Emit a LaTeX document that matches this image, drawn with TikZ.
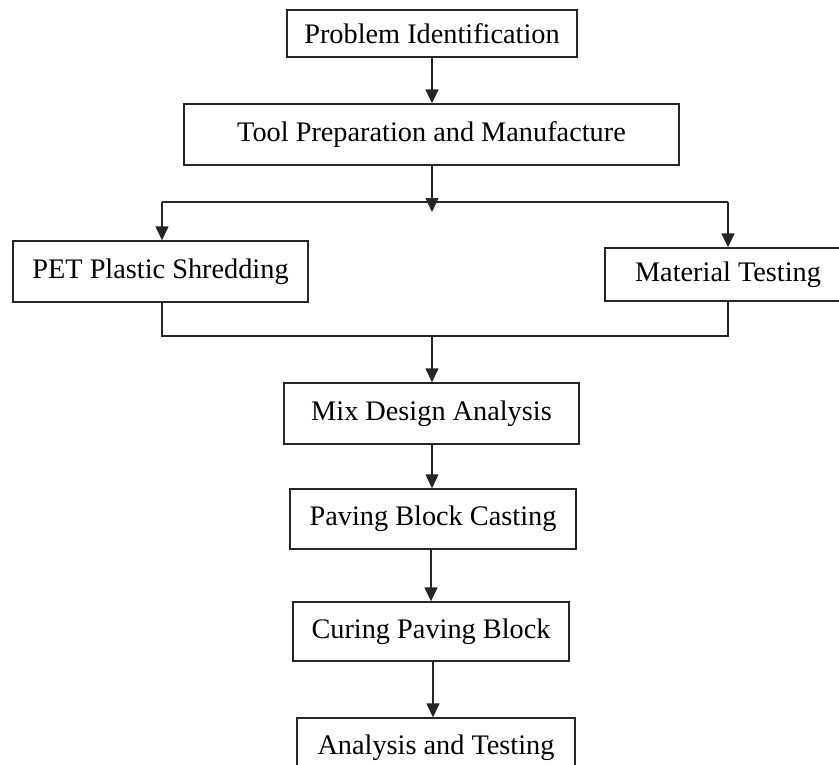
\documentclass[tikz,border=0pt]{standalone}
\usepackage{fontspec}
\setmainfont{Liberation Serif}
\usetikzlibrary{arrows.meta}
\begin{document}
\begin{tikzpicture}[x=1pt,y=-1pt,
  box/.style={draw=black!85, line width=1.4pt, rectangle, inner sep=0pt,
    font=\fontsize{28.3}{32}\selectfont, text=black},
  link/.style={draw=black!85, line width=1.4pt},
  arr/.style={link, -{Triangle[length=14pt,width=13pt]}}]
\useasboundingbox (0,0) rectangle (839,764);
\clip (0,0) rectangle (839,764);
\fill[white] (0,0) rectangle (839,764);
\node[box, minimum width=290pt, minimum height=47pt] (prob) at (432,33.5) {Problem Identification};
\node[box, minimum width=495pt, minimum height=61pt] (tool) at (431.5,134.5) {Tool Preparation and Manufacture};
\node[box, minimum width=295pt, minimum height=61pt] (pet) at (160.5,271.5) {PET Plastic Shredding};
\node[box, minimum width=246pt, minimum height=53pt] (mat) at (728,274.5) {Material Testing};
\node[box, minimum width=295pt, minimum height=61pt] (mix) at (431.5,413.5) {Mix Design Analysis};
\node[box, minimum width=286pt, minimum height=60pt] (pav) at (433,519) {Paving Block Casting};
\node[box, minimum width=276pt, minimum height=59pt] (cur) at (431,631.5) {Curing Paving Block};
\node[box, minimum width=278pt, minimum height=60pt] (ana) at (436,748) {Analysis and Testing};
\coordinate (sL) at (162,202);
\coordinate (sR) at (728,202);
\coordinate (stip) at (432,212);
\coordinate (jL) at (162,336);
\coordinate (jR) at (728,336);
\coordinate (jM) at (432,336);
\draw[arr] (prob.south -| 432,0) -- (tool.north -| 432,0);
\draw[arr] (tool.south -| 432,0) -- (stip);
\draw[link] (sL) -- (sR);
\draw[arr] (sL) -- (sL |- pet.north);
\draw[arr] (sR) -- (sR |- mat.north);
\draw[link] (jL |- pet.south) -- (jL) -- (jR) -- (jR |- mat.south);
\draw[arr] (jM) -- (jM |- mix.north);
\draw[arr] (mix.south -| 432,0) -- (pav.north -| 432,0);
\draw[arr] (pav.south -| 431,0) -- (cur.north -| 431,0);
\draw[arr] (cur.south -| 433,0) -- (ana.north -| 433,0);
\end{tikzpicture}
\end{document}
